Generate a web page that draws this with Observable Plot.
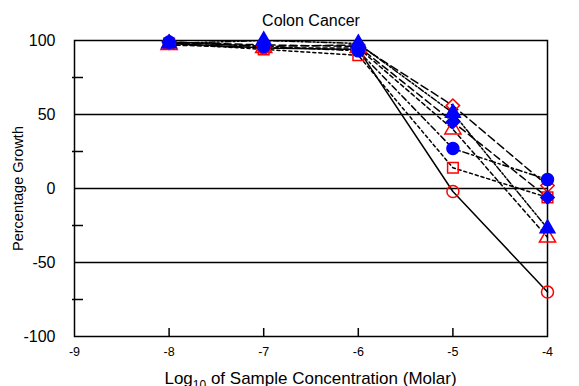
<!DOCTYPE html>
<html><head><meta charset="utf-8">
<script src="https://cdn.jsdelivr.net/npm/d3@7"></script>
<script src="https://cdn.jsdelivr.net/npm/@observablehq/plot@0.6"></script>
<style>
body{margin:0;background:#fff;}
#chart{position:relative;width:579px;height:386px;overflow:hidden;font-family:"Liberation Sans",Arial,sans-serif;}
</style>
</head><body><div id="chart"></div>
<script>
// Data
const logConc = [-8, -7, -6, -5, -4];
const cellLines = ["COLO 205", "HCT-15", "KM12", "SW-620", "HCC-2998", "HCT-116", "HT29"];
const growthColo205 = [98, 94, 90, 14, -6];   // red square
const growthHct15   = [97, 95, 95, 40, -33];  // red triangle
const growthKm12    = [98, 95, 94, -2, -70];  // red circle
const growthSw620   = [99, 96, 97, 56, 2];    // red diamond
const growthHcc2998 = [99, 96, 93, 27, 6];    // blue circle
const growthHct116  = [98, 100, 98, 51, -27]; // blue triangle
const growthHt29    = [99, 97, 96, 45, -6];   // blue diamond
const allGrowth = [growthColo205, growthHct15, growthKm12, growthSw620, growthHcc2998, growthHct116, growthHt29];
const yTickLabels = [100, 50, 0, -50, -100];
const yMinorTicks = [75, 25, -25, -75];
const xTickLabels = [-9, -8, -7, -6, -5, -4];
const xInnerTicks = [-8, -7, -6, -5];
const gridValues = [50, 0, -50];
const titleText = "Colon Cancer";
const yLabel = "Percentage Growth";

// styles per series
const styles = [
  {symbol: "square",   color: "red",  filled: false, dash: "3,3", r: 6},
  {symbol: "triangle", color: "red",  filled: false, dash: "4,3", r: 6},
  {symbol: "circle",   color: "red",  filled: false, dash: null, r: 6},
  {symbol: "diamond2", color: "red",  filled: false, dash: "8,4", r: 6},
  {symbol: "circle",   color: "blue", filled: true,  dash: "6,3,2,3", r: 6},
  {symbol: "triangle", color: "blue", filled: true,  dash: "2,2,2,2,6,2", r: 5.5},
  {symbol: "diamond2", color: "blue", filled: true,  dash: "7,4", r: 6}
];

const series = cellLines.map((name, i) => logConc.map((x, j) => ({name, x, y: allGrowth[i][j]})));

const lineMarks = series.map((rows, i) => Plot.line(rows, {
  x: "x", y: "y", stroke: "black", strokeWidth: 1.5,
  strokeDasharray: styles[i].dash || undefined
}));
const dotMarks = series.map((rows, i) => Plot.dot(rows, {
  x: "x", y: "y", symbol: () => styles[i].symbol, r: styles[i].r,
  stroke: styles[i].color, strokeWidth: 1.5,
  fill: styles[i].filled ? styles[i].color : "none"
}));

const blank = () => "";
const plain = d => String(d);

const plot = Plot.plot({
  width: 579, height: 386,
  marginTop: 40, marginLeft: 74, marginRight: 32, marginBottom: 50,
  style: {fontFamily: "'Liberation Sans', Arial, sans-serif", background: "white", color: "black", overflow: "visible"},
  x: {domain: [-9, -4], label: null},
  y: {domain: [-100, 100], label: null},
  symbol: {type: "identity"},
  marks: [
    Plot.ruleY(gridValues, {stroke: "black", strokeWidth: 1.5}),
    Plot.frame({stroke: "black", strokeWidth: 1.5}),
    Plot.axisY(yMinorTicks, {tickSize: 11, dx: 9, strokeWidth: 1.5, strokeOpacity: 1, tickFormat: blank, label: null}),
    Plot.axisY(yTickLabels, {tickSize: 0, tickPadding: 19, fontSize: 16, tickFormat: plain, label: null}),
    Plot.axisX(xInnerTicks, {tickSize: 8, dy: -8, strokeWidth: 1.5, strokeOpacity: 1, tickFormat: blank, label: null}),
    Plot.axisX(xTickLabels, {tickSize: 0, tickPadding: 11, fontSize: 12.5, tickFormat: plain, label: null}),
    ...lineMarks,
    ...dotMarks,
    Plot.text([titleText], {frameAnchor: "top", lineAnchor: "middle", dy: -20, fontSize: 16, fill: "black"}),
    Plot.text([yLabel], {frameAnchor: "left", textAnchor: "middle", lineAnchor: "middle", dx: -56, rotate: -90, fontSize: 14.5, fill: "black"})
  ]
});
document.getElementById("chart").appendChild(plot);

// x-axis label with subscript
const svg = d3.select(plot);
const xl = svg.append("text")
  .attr("x", (74 + 547) / 2).attr("y", 384)
  .attr("text-anchor", "middle")
  .attr("font-size", 17).attr("fill", "black")
  .attr("font-family", "'Liberation Sans', Arial, sans-serif");
xl.append("tspan").text("Log");
xl.append("tspan").attr("font-size", 12).attr("dy", 5).text("10");
xl.append("tspan").attr("dy", -5).text(" of Sample Concentration (Molar)");
</script>
</body></html>
